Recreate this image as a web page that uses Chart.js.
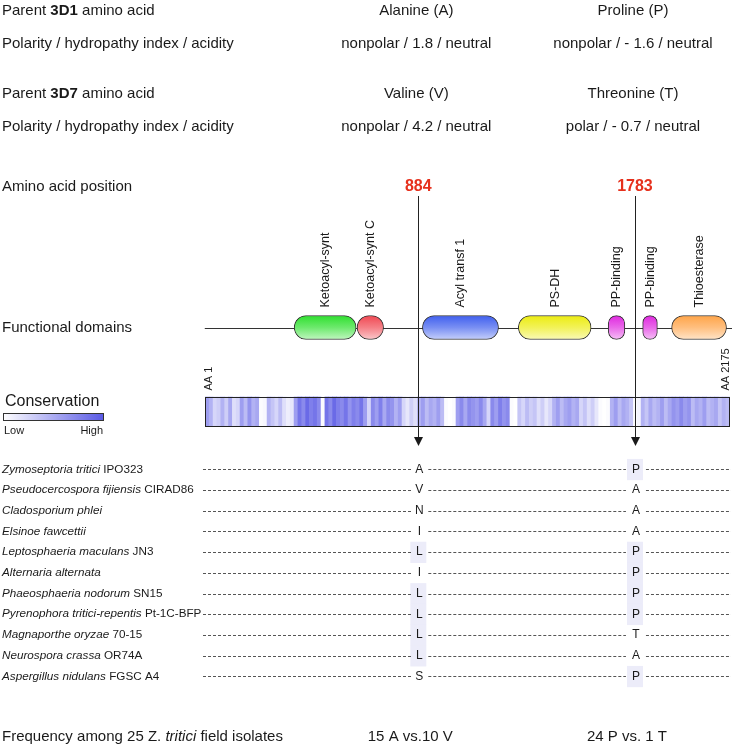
<!DOCTYPE html>
<html>
<head>
<meta charset="utf-8">
<script src="https://cdn.jsdelivr.net/npm/chart.js@4.4.1/dist/chart.umd.min.js"></script>
<style>
  html, body { margin: 0; padding: 0; background: #fff; }
  canvas { display: block; }
</style>
</head>
<body>
<canvas id="fig" width="732" height="748"></canvas>
<script>
// --- data ---
const proteinLength = 2175;
const markerPositions = [884, 1783];
const parent3D1Residue = ['Alanine (A)', 'Proline (P)'];
const parent3D1Props = ['nonpolar / 1.8 / neutral', 'nonpolar / - 1.6 / neutral'];
const parent3D7Residue = ['Valine (V)', 'Threonine (T)'];
const parent3D7Props = ['nonpolar / 4.2 / neutral', 'polar / - 0.7 / neutral'];
const fieldFrequency = ['15 A vs.10 V', '24 P vs. 1 T'];

const domainNames = ['Ketoacyl-synt', 'Ketoacyl-synt C', 'Acyl transf 1', 'PS-DH', 'PP-binding', 'PP-binding', 'Thioesterase'];
const domainStart = [369, 630, 901, 1299, 1672, 1815, 1935];
const domainEnd = [626, 740, 1217, 1601, 1741, 1876, 2163];
const domainColors = ['#2ee02e', '#f04852', '#3f5fee', '#ecec10', '#e028e0', '#e028e0', '#ffa448'];

// conservation score per 16-aa window (0 = low, 1 = high)
const consWindow = 16;
const conservation = [
  0.6, 0.5, 0.3, 0.35, 0.5, 0.35, 0.55, 0.25, 0.3, 0.6,
  0.45, 0.65, 0.5, 0.55, 0.05, 0.08, 0.5, 0.4, 0.3, 0.45,
  0.25, 0.15, 0.2, 0.6, 0.8, 0.7, 0.85, 0.75, 0.8, 0.7,
  0.05, 0.8, 0.7, 0.85, 0.75, 0.7, 0.8, 0.65, 0.75, 0.7,
  0.8, 0.6, 0.3, 0.7, 0.6, 0.75, 0.55, 0.7, 0.65, 0.5,
  0.6, 0.3, 0.2, 0.35, 0.25, 0.5, 0.6, 0.45, 0.55, 0.5,
  0.6, 0.45, 0.05, 0.0, 0.05, 0.6, 0.7, 0.55, 0.7, 0.65,
  0.6, 0.7, 0.55, 0.3, 0.7, 0.6, 0.75, 0.65, 0.7, 0.05,
  0.0, 0.4, 0.3, 0.45, 0.35, 0.4, 0.25, 0.35, 0.2, 0.3,
  0.5, 0.6, 0.45, 0.55, 0.6, 0.5, 0.55, 0.3, 0.4, 0.25,
  0.35, 0.2, 0.05, 0.0, 0.05, 0.5, 0.6, 0.45, 0.55, 0.5,
  0.4, 0.05, 0.1, 0.5, 0.4, 0.55, 0.45, 0.5, 0.6, 0.45,
  0.55, 0.65, 0.6, 0.7, 0.6, 0.65, 0.45, 0.55, 0.5, 0.6,
  0.45, 0.5, 0.55, 0.4, 0.5, 0.45
];

const speciesNames = ['Zymoseptoria tritici', 'Pseudocercospora fijiensis', 'Cladosporium phlei', 'Elsinoe fawcettii',
  'Leptosphaeria maculans', 'Alternaria alternata', 'Phaeosphaeria nodorum', 'Pyrenophora tritici-repentis',
  'Magnaporthe oryzae', 'Neurospora crassa', 'Aspergillus nidulans'];
const strainNames = ['IPO323', 'CIRAD86', '', '', 'JN3', '', 'SN15', 'Pt-1C-BFP', '70-15', 'OR74A', 'FGSC A4'];
const residues884 = ['A', 'V', 'N', 'I', 'L', 'I', 'L', 'L', 'L', 'L', 'S'];
const residues1783 = ['P', 'A', 'A', 'A', 'P', 'P', 'P', 'P', 'T', 'A', 'P'];

// --- layout (pixels on a 748 tall figure) ---
const FONT = '"Liberation Sans", Arial, Helvetica, sans-serif';
const rows = { top: [11, 44, 94, 127], position: 187, domain: 327.5, cons: 411.5, align0: 469.3, alignStep: 20.7, freq: 737 };
const pxPerAA = 0.241, aaOneAt = 205.5;
const xMin = 1 - aaOneAt / pxPerAA;
const xMax = xMin + 732 / pxPerAA;

function mix(hex, t) {
  const n = parseInt(hex.slice(1), 16);
  const r = (n >> 16) & 255, g = (n >> 8) & 255, b = n & 255;
  return `rgb(${Math.round(r + (255 - r) * t)},${Math.round(g + (255 - g) * t)},${Math.round(b + (255 - b) * t)})`;
}
function consColor(v) {
  const c = [72, 72, 226];
  const t = Math.pow(v, 1.25);
  return `rgb(${c.map(k => Math.round(255 - (255 - k) * t)).join(',')})`;
}
function consensus(list) {
  const cnt = {};
  list.forEach(r => cnt[r] = (cnt[r] || 0) + 1);
  return Object.keys(cnt).sort((a, b) => cnt[b] - cnt[a])[0];
}

function drawRuns(ctx, parts, px, py, align) {
  let w = 0;
  parts.forEach(p => { ctx.font = p[1]; w += ctx.measureText(p[0]).width; });
  let cx = align === 'center' ? px - w / 2 : px;
  ctx.textAlign = 'left';
  parts.forEach(p => { ctx.font = p[1]; ctx.fillText(p[0], cx, py); cx += ctx.measureText(p[0]).width; });
}

const figurePlugin = {
  id: 'figure',
  beforeDatasetsDraw(chart) {
    const { ctx, scales: { x, y } } = chart;
    ctx.save();
    ctx.strokeStyle = '#333';
    ctx.lineWidth = 1;
    const yd = Math.round(y.getPixelForValue(rows.domain)) + 0.5;
    ctx.beginPath();
    ctx.moveTo(x.getPixelForValue(-2), yd);
    ctx.lineTo(chart.width, yd);
    ctx.stroke();
    ctx.restore();
  },
  afterDatasetsDraw(chart) {
    const { ctx, scales: { x, y } } = chart;
    const reg = '15px ' + FONT, bold = 'bold 15px ' + FONT, ital = 'italic 15px ' + FONT;
    const mx = markerPositions.map(m => x.getPixelForValue(m));
    ctx.save();
    ctx.fillStyle = '#1a1a1a';
    ctx.textBaseline = 'middle';

    // header rows
    drawRuns(ctx, [['Parent ', reg], ['3D1', bold], [' amino acid', reg]], 2, rows.top[0]);
    drawRuns(ctx, [['Polarity / hydropathy index / acidity', reg]], 2, rows.top[1]);
    drawRuns(ctx, [['Parent ', reg], ['3D7', bold], [' amino acid', reg]], 2, rows.top[2]);
    drawRuns(ctx, [['Polarity / hydropathy index / acidity', reg]], 2, rows.top[3]);
    mx.forEach((px, i) => {
      drawRuns(ctx, [[parent3D1Residue[i], reg]], px - 2, rows.top[0], 'center');
      drawRuns(ctx, [[parent3D1Props[i], reg]], px - 2, rows.top[1], 'center');
      drawRuns(ctx, [[parent3D7Residue[i], reg]], px - 2, rows.top[2], 'center');
      drawRuns(ctx, [[parent3D7Props[i], reg]], px - 2, rows.top[3], 'center');
    });

    // amino acid positions
    drawRuns(ctx, [['Amino acid position', reg]], 2, rows.position);
    ctx.fillStyle = '#e6301c';
    mx.forEach((px, i) => drawRuns(ctx, [[String(markerPositions[i]), 'bold 16px ' + FONT]], px, rows.position, 'center'));
    ctx.fillStyle = '#1a1a1a';

    // functional domains
    drawRuns(ctx, [['Functional domains', reg]], 2, rows.domain);
    ctx.font = '12.5px ' + FONT;
    domainNames.forEach((name, i) => {
      const cx = x.getPixelForValue((domainStart[i] + domainEnd[i]) / 2);
      ctx.save();
      ctx.translate(cx + 0.5, y.getPixelForValue(rows.domain) - 20);
      ctx.rotate(-Math.PI / 2);
      ctx.textAlign = 'left';
      ctx.fillText(name, 0, 0);
      ctx.restore();
    });

    // conservation strip outline + end labels
    const x0 = x.getPixelForValue(0.5), x1 = x.getPixelForValue(proteinLength + 0.5);
    const yc = y.getPixelForValue(rows.cons);
    ctx.strokeStyle = '#222';
    ctx.lineWidth = 1;
    ctx.strokeRect(Math.round(x0) + 0.5, Math.round(yc - 14.5) + 0.5, Math.round(x1 - x0), 29);
    ctx.font = '11px ' + FONT;
    [['AA 1', x0 + 4], ['AA ' + proteinLength, x1 - 4]].forEach(([t, px]) => {
      ctx.save();
      ctx.translate(px, yc - 21);
      ctx.rotate(-Math.PI / 2);
      ctx.textAlign = 'left';
      ctx.fillText(t, 0, 0);
      ctx.restore();
    });

    // conservation legend
    drawRuns(ctx, [['Conservation', '16px ' + FONT]], 5, 402);
    const lg = ctx.createLinearGradient(3, 0, 103, 0);
    lg.addColorStop(0, consColor(0));
    lg.addColorStop(1, consColor(0.92));
    ctx.fillStyle = lg;
    ctx.fillRect(3.5, 413.5, 100, 7);
    ctx.strokeStyle = '#333';
    ctx.strokeRect(3.5, 413.5, 100, 7);
    ctx.fillStyle = '#1a1a1a';
    ctx.font = '11px ' + FONT;
    ctx.textAlign = 'left';
    ctx.fillText('Low', 4, 431);
    ctx.textAlign = 'right';
    ctx.fillText('High', 103, 431);

    // marker lines with arrows
    ctx.strokeStyle = '#222';
    mx.forEach(px => {
      const lx = Math.round(px) + 0.5;
      ctx.beginPath();
      ctx.moveTo(lx, 196);
      ctx.lineTo(lx, 438);
      ctx.stroke();
      ctx.beginPath();
      ctx.moveTo(lx - 4.5, 437);
      ctx.lineTo(lx + 4.5, 437);
      ctx.lineTo(lx, 446);
      ctx.closePath();
      ctx.fill();
    });

    // alignment
    const rowY = i => rows.align0 + i * rows.alignStep;
    const columns = [residues884, residues1783];
    ctx.fillStyle = '#ececf9';
    columns.forEach((col, c) => {
      const cons = consensus(col);
      col.forEach((r, i) => {
        if (r !== cons) return;
        ctx.fillRect(mx[c] - 8, rowY(i) - rows.alignStep / 2, 16, rows.alignStep + 0.5);
      });
    });
    ctx.strokeStyle = '#555';
    ctx.setLineDash([3, 2]);
    speciesNames.forEach((name, i) => {
      const ry = rowY(i);
      const ly = Math.round(ry) + 0.5;
      const segs = [[203, mx[0] - 7], [mx[0] + 10, mx[1] - 9], [mx[1] + 11, 731]];
      segs.forEach(([a, b]) => {
        ctx.beginPath();
        ctx.moveTo(a, ly);
        ctx.lineTo(b, ly);
        ctx.stroke();
      });
      ctx.fillStyle = '#1a1a1a';
      const parts = [[name, 'italic 11.7px ' + FONT]];
      if (strainNames[i]) parts.push([' ' + strainNames[i], '11.7px ' + FONT]);
      drawRuns(ctx, parts, 2, ry);
      ctx.font = '12px ' + FONT;
      ctx.textAlign = 'center';
      ctx.fillText(residues884[i], mx[0] + 1, ry);
      ctx.fillText(residues1783[i], mx[1] + 1, ry);
    });
    ctx.setLineDash([]);

    // field isolates
    drawRuns(ctx, [['Frequency among 25 ', reg], ['Z. ', reg], ['tritici', ital], [' field isolates', reg]], 2, rows.freq);
    mx.forEach((px, i) => drawRuns(ctx, [[fieldFrequency[i], reg]], px - 8, rows.freq, 'center'));
    ctx.restore();
  }
};

const consData = conservation.map((v, i) => ({
  y: rows.cons,
  x: [i * consWindow + 0.5, Math.min((i + 1) * consWindow, proteinLength) + 0.5]
}));
const domainData = domainNames.map((n, i) => ({ y: rows.domain, x: [domainStart[i], domainEnd[i]] }));

new Chart(document.getElementById('fig'), {
  type: 'bar',
  data: {
    datasets: [
      {
        label: 'Conservation',
        data: consData,
        backgroundColor: conservation.map(consColor),
        borderWidth: 0,
        barThickness: 29
      },
      {
        label: 'Functional domains',
        data: domainData,
        backgroundColor: ctx => {
          const chart = ctx.chart;
          const base = domainColors[ctx.dataIndex];
          if (!chart.chartArea) return base;
          const yc = chart.scales.y.getPixelForValue(rows.domain);
          const g = chart.ctx.createLinearGradient(0, yc - 12, 0, yc + 12);
          g.addColorStop(0, base);
          g.addColorStop(0.5, mix(base, 0.3));
          g.addColorStop(1, mix(base, 0.7));
          return g;
        },
        borderColor: '#333',
        borderWidth: 1,
        borderSkipped: false,
        borderRadius: 13,
        barThickness: 24
      }
    ]
  },
  options: {
    indexAxis: 'y',
    responsive: false,
    animation: false,
    events: [],
    grouped: false,
    layout: { padding: 0 },
    plugins: { legend: { display: false }, tooltip: { enabled: false } },
    scales: {
      x: { type: 'linear', min: xMin, max: xMax, offset: false, display: false },
      y: { type: 'linear', min: 0, max: 748, reverse: true, offset: false, display: false }
    }
  },
  plugins: [figurePlugin]
});
</script>
</body>
</html>
